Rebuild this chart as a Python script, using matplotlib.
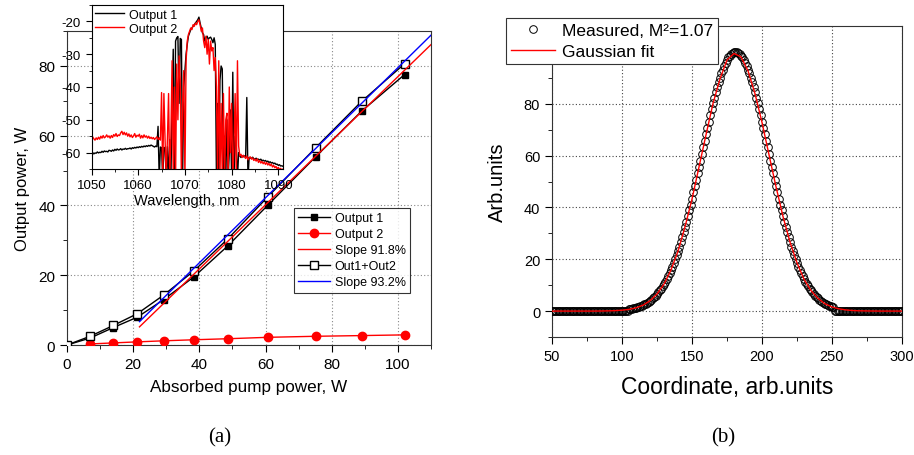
import numpy as np
import matplotlib
matplotlib.use("Agg")
import matplotlib.pyplot as plt
from matplotlib.ticker import MultipleLocator

plt.rcParams['font.family'] = ['Liberation Sans', 'DejaVu Sans']
plt.rcParams['axes.unicode_minus'] = False

# ---------------- Panel (a) data ----------------
pump = [0, 7, 14, 21.3, 29.2, 38.3, 48.7, 60.6, 75.2, 89, 102]
out1 = [0, 2.0, 5.0, 8.0, 13.0, 19.5, 28.5, 40.0, 54.0, 67.0, 77.5]
pump2 = [7, 14, 21.3, 29.2, 38.3, 48.7, 60.6, 75.2, 89, 102]
out2 = [0.3, 0.6, 0.9, 1.2, 1.5, 1.8, 2.2, 2.5, 2.7, 2.9]
sum_x = [0, 7, 14, 21.3, 29.2, 38.3, 48.7, 60.6, 75.2, 89, 102]
out_sum = [0, 2.5, 5.6, 9.0, 14.3, 21.2, 30.5, 42.4, 56.6, 69.8, 80.6]
slope_x = [21.9, 110]
slope1_y = [5.2, 86.1]
slope2_y = [6.7, 88.8]

# Inset spectra (wavelength grid 1050..1091 nm, 0.25 nm step)
wl = np.linspace(1050, 1091, 165)
spec1 = [
    -60.3, -60.0, -60.4, -60.1,
    -60.2, -59.8, -60.1, -59.9,
    -60.0, -59.6, -59.9, -59.5,
    -59.7, -59.6, -59.8, -59.3,
    -59.4, -59.6, -59.2, -59.5,
    -59.0, -59.3, -58.9, -59.2,
    -59.1, -58.8, -59.2, -58.9,
    -59.0, -58.7, -59.0, -58.8,
    -58.8, -58.6, -58.9, -58.5,
    -58.7, -58.4, -58.6, -58.3,
    -58.5, -58.2, -58.4, -58.1,
    -58.3, -58.0, -58.2, -57.9,
    -58.1, -57.8, -58.0, -57.7,
    -57.9, -58.1, -58.3, -58.0,
    -58.2, -52.0, -68.0, -58.3,
    -58.5, -68.0, -58.4, -58.6,
    -68.0, -58.2, -68.0, -56.0,
    -68.0, -45.0, -28.5, -68.0,
    -26.0, -25.0, -24.6, -45.0,
    -25.2, -25.5, -68.0, -40.0,
    -35.0, -30.0, -27.0, -24.5,
    -23.5, -22.5, -22.0, -21.5,
    -21.0, -20.5, -20.0, -19.5,
    -18.7, -20.5, -22.0, -23.5,
    -24.0, -26.0, -25.0, -24.5,
    -25.5, -25.0, -24.8, -25.5,
    -26.5, -25.0, -27.0, -68.0,
    -45.0, -68.0, -38.0, -33.6,
    -34.5, -68.0, -55.0, -68.0,
    -50.0, -68.0, -60.0, -47.0,
    -68.0, -35.5, -68.0, -55.0,
    -58.0, -68.0, -60.0, -61.0,
    -61.5, -61.0, -61.3, -61.0,
    -61.5, -43.2, -68.0, -61.5,
    -61.6, -61.8, -61.4, -61.9,
    -62.0, -61.7, -62.2, -62.0,
    -62.3, -62.0, -62.5, -62.3,
    -62.6, -62.4, -62.8, -62.6,
    -63.0, -62.8, -63.2, -63.0,
    -63.4, -63.2, -63.6, -63.5,
    -63.9, -63.7, -64.1, -64.0,
    -64.2,
]
spec2 = [
    -56.0, -55.2, -55.8, -56.2,
    -55.5, -56.0, -55.3, -55.9,
    -55.0, -55.6, -54.8, -55.5,
    -55.2, -54.6, -55.3, -54.9,
    -55.6, -54.8, -55.4, -54.5,
    -55.0, -54.2, -55.1, -54.6,
    -54.8, -54.0, -53.5, -54.5,
    -53.8, -54.6, -54.0, -55.0,
    -54.3, -55.2, -54.6, -55.4,
    -54.9, -54.2, -55.3, -54.7,
    -55.0, -54.4, -55.6, -54.8,
    -55.5, -54.6, -55.3, -54.9,
    -55.6, -55.0, -55.7, -55.3,
    -55.8, -55.4, -56.0, -55.6,
    -55.2, -56.0, -55.5, -56.2,
    -41.7, -68.0, -42.0, -56.0,
    -68.0, -56.0, -42.0, -68.0,
    -55.0, -32.0, -68.0, -40.0,
    -68.0, -33.0, -50.0, -30.5,
    -38.0, -68.0, -45.0, -35.0,
    -68.0, -32.0, -26.0, -24.0,
    -23.0, -22.0, -22.5, -21.0,
    -21.5, -20.5, -21.0, -20.0,
    -19.5, -21.0, -23.0, -22.0,
    -26.0, -28.0, -24.5, -30.0,
    -25.5, -33.0, -26.0, -29.0,
    -28.0, -35.0, -31.0, -40.0,
    -68.0, -32.0, -68.0, -45.0,
    -68.0, -42.0, -68.0, -50.0,
    -48.0, -68.0, -40.0, -60.0,
    -45.0, -68.0, -58.0, -42.0,
    -68.0, -32.0, -58.0, -61.0,
    -60.5, -61.5, -60.8, -61.2,
    -61.8, -61.0, -62.2, -61.5,
    -61.3, -62.0, -61.6, -62.4,
    -62.0, -62.6, -61.9, -63.0,
    -62.4, -63.2, -62.7, -63.4,
    -62.9, -63.6, -63.0, -63.8,
    -63.3, -64.0, -63.5, -64.4,
    -63.9, -64.6, -64.2, -65.0,
    -64.5, -65.2, -64.8, -65.5,
    -65.0,
]

# ---------------- Panel (b) data ----------------
coord = np.arange(50, 301, 1)
measured = ([0.0] * 55 + [
    0.66, 0.76, 0.86, 1.0, 1.1, 1.26, 1.4, 1.6, 1.8, 2.0,
    2.28, 2.6, 2.86, 3.2, 3.55, 4.0, 4.4, 4.9, 5.4, 6.0,
    6.6, 7.2, 7.96, 8.7, 9.6, 10.5, 11.4, 12.4, 13.5, 14.7,
    15.9, 17.2, 18.6, 20.1, 21.6, 23.2, 24.9, 26.7, 28.6, 30.5,
    32.5, 34.5, 36.7, 38.9, 41.1, 43.4, 45.8, 48.2, 50.6, 53.1,
    55.6, 58.1, 60.65, 63.2, 65.7, 68.2, 70.7, 73.1, 75.5, 77.8,
    80.1, 82.3, 84.4, 86.4, 88.2, 90.0, 91.7, 93.2, 94.6, 95.8,
    96.9, 97.9, 98.6, 99.2, 99.65, 99.9, 100.0, 99.9, 99.65, 99.2,
    98.6, 97.9, 96.9, 95.8, 94.6, 93.2, 91.7, 90.0, 88.2, 86.4,
    84.4, 82.3, 80.1, 77.8, 75.5, 73.1, 70.7, 68.2, 65.7, 63.2,
    60.65, 58.1, 55.6, 53.1, 50.6, 48.2, 45.8, 43.4, 41.1, 38.9,
    36.7, 34.5, 32.5, 30.5, 28.6, 26.7, 24.9, 23.2, 21.6, 20.1,
    18.6, 17.2, 15.9, 14.7, 13.5, 12.4, 11.4, 10.5, 9.6, 8.7,
    7.96, 7.2, 6.6, 6.0, 5.4, 4.9, 4.4, 4.0, 3.55, 3.2,
    2.86, 2.6, 2.28, 2.0, 1.8, 1.6, 1.4,
] + [0.0] * 49)
fit_x = np.arange(50, 301, 5)
fit_y = [0, 0, 0, 0, 0, 0, 0, 0.03, 0.08, 0.16,
         0.34, 0.66, 1.26, 2.28, 3.96, 6.57, 10.4, 15.9, 23.1, 32.5,
         43.2, 55.6, 68.0, 80.1, 89.6, 96.9, 99.4, 98.1, 92.7, 83.9,
         72.8, 60.3, 48.0, 36.5, 26.6, 18.6, 12.3, 7.9, 4.9, 2.8,
         1.6, 0.86, 0.44, 0.2, 0.1, 0.05, 0.02, 0, 0, 0, 0]

W, H = 914, 456
fig = plt.figure(figsize=(W / 100, H / 100), dpi=100)

def rect(l, t, r, b):
    return [l / W, 1 - b / H, (r - l) / W, (b - t) / H]

# ---------------- Panel (a) ----------------
ax = fig.add_axes(rect(67, 32, 431, 346))
ax.plot(pump, out1, '-', color='black', lw=1, marker='s', ms=5,
        mfc='black', mec='black', label='Output 1', zorder=3)
ax.plot(pump2, out2, '-', color='red', lw=1, marker='o', ms=6,
        mfc='red', mec='red', label='Output 2', zorder=3)
ax.plot(slope_x, slope1_y, '-', color='red', lw=1, label='Slope 91.8%', zorder=4)
ax.plot(sum_x, out_sum, '-', color='black', lw=1, marker='s', ms=5.5,
        mfc='white', mec='black', mew=1, label='Out1+Out2', zorder=3)
ax.plot(slope_x, slope2_y, '-', color='blue', lw=1, label='Slope 93.2%', zorder=4)
ax.set_xlim(0, 110)
ax.set_ylim(0, 90)
ax.xaxis.set_major_locator(MultipleLocator(20))
ax.xaxis.set_minor_locator(MultipleLocator(10))
ax.yaxis.set_major_locator(MultipleLocator(20))
ax.yaxis.set_minor_locator(MultipleLocator(10))
ax.tick_params(which='both', direction='out', top=False, right=False, labelsize=11)
ax.tick_params(which='major', length=5)
ax.tick_params(which='minor', length=3)
ax.grid(True, which='major', ls=(0, (1, 2)), color='#888888', lw=0.8)
ax.set_xlabel('Absorbed pump power, W', fontsize=12.3, labelpad=6)
ax.set_ylabel('Output power, W', fontsize=12, labelpad=6)
for s in ax.spines.values():
    s.set_color('#333333')
leg = ax.legend(loc='upper left', bbox_to_anchor=(294 / W, 1 - 209 / H),
                bbox_transform=fig.transFigure, borderaxespad=0, fontsize=9,
                frameon=True, fancybox=False, edgecolor='black',
                handlelength=2.5, labelspacing=0.32, borderpad=0.35,
                handletextpad=0.4)
leg.get_frame().set_linewidth(0.8)

# Inset
axi = fig.add_axes(rect(91.5, 6, 283, 170))
axi.set_zorder(5)
axi.set_facecolor('white')
axi.plot(wl, spec1, color='black', lw=1, label='Output 1')
axi.plot(wl, spec2, color='red', lw=1, label='Output 2')
axi.set_xlim(1050, 1091)
axi.set_ylim(-65, -15)
axi.xaxis.set_major_locator(MultipleLocator(10))
axi.xaxis.set_minor_locator(MultipleLocator(5))
axi.yaxis.set_major_locator(MultipleLocator(10))
axi.yaxis.set_minor_locator(MultipleLocator(5))
axi.tick_params(which='both', direction='out', top=False, right=False, labelsize=9.5)
axi.tick_params(which='major', length=4)
axi.tick_params(which='minor', length=2)
axi.set_xlabel('Wavelength, nm', fontsize=10.5, labelpad=1)
axi.legend(loc='upper left', frameon=False, fontsize=9, handlelength=2.3,
           borderaxespad=0.1, labelspacing=0.15, borderpad=0.2, handletextpad=0.4)

# ---------------- Panel (b) ----------------
bx = fig.add_axes(rect(552, 27, 902, 338))
bx.plot(coord, measured, 'o', ms=5.5, mfc='none', mec='black', mew=0.7,
        label='Measured, M²=1.07', zorder=3)
bx.plot(fit_x, fit_y, '-', color='red', lw=1, label='Gaussian fit', zorder=4)
bx.set_xlim(50, 300)
bx.set_ylim(-10, 110)
bx.xaxis.set_major_locator(MultipleLocator(50))
bx.xaxis.set_minor_locator(MultipleLocator(25))
bx.set_yticks([0, 20, 40, 60, 80])
bx.yaxis.set_minor_locator(MultipleLocator(10))
bx.tick_params(which='both', direction='out', top=False, right=False, labelsize=10.5)
bx.tick_params(which='major', length=5)
bx.tick_params(which='minor', length=3)
bx.grid(True, which='major', ls=(0, (1, 2)), color='#444444', lw=0.8)
bx.set_xlabel('Coordinate, arb.units', fontsize=16.5, labelpad=9)
bx.set_ylabel('Arb.units', fontsize=14.5, labelpad=12)
for s in bx.spines.values():
    s.set_color('#333333')
lg2 = bx.legend(loc='upper left', bbox_to_anchor=(506 / W, 1 - 19 / H),
                bbox_transform=fig.transFigure, borderaxespad=0, fontsize=12.5,
                frameon=True, fancybox=False, edgecolor='#333333',
                handlelength=2.5, labelspacing=0.3, borderpad=0.3,
                handletextpad=0.4, framealpha=1)
lg2.get_frame().set_linewidth(0.8)
lg2.set_zorder(10)

fig.text(220 / W, 1 - 438 / H, '(a)', fontsize=15, ha='center', va='center',
         family='Liberation Serif')
fig.text(723 / W, 1 - 438 / H, '(b)', fontsize=15, ha='center', va='center',
         family='Liberation Serif')

fig.savefig('out.png', dpi=100)
